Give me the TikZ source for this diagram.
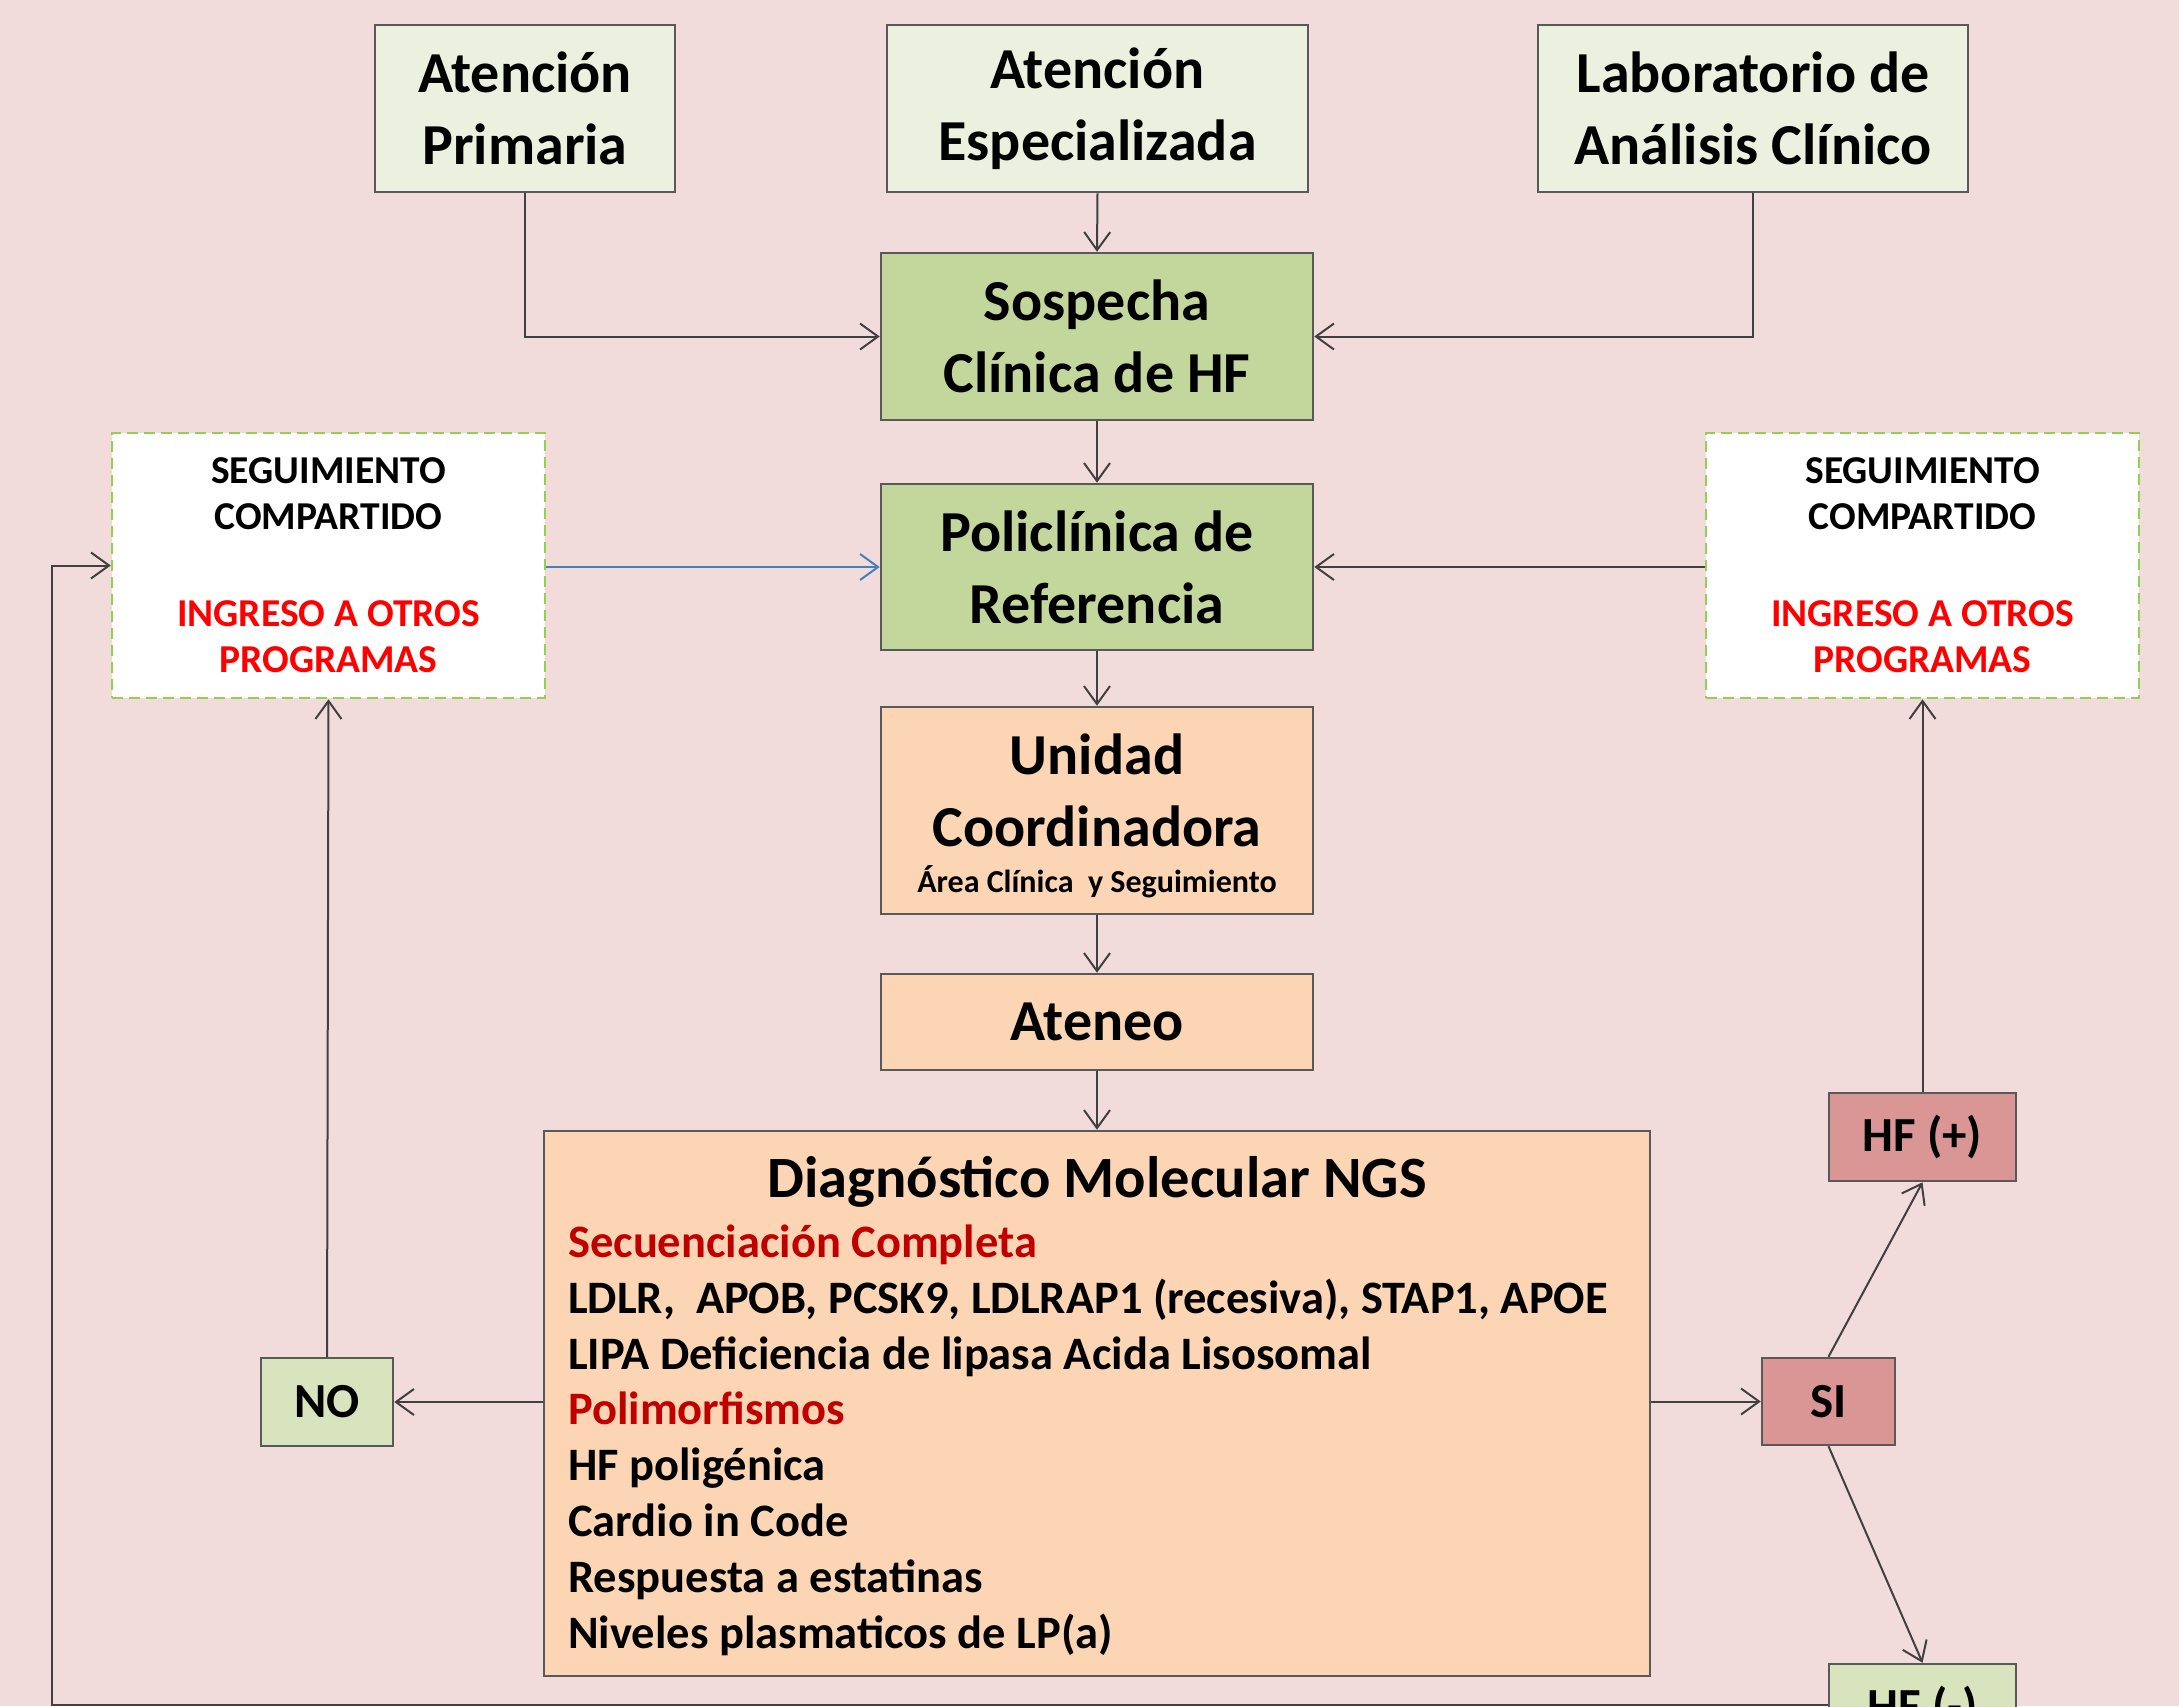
\documentclass[tikz,border=0pt]{standalone}
\usepackage{fontspec}
\setmainfont{Carlito}
\usetikzlibrary{arrows.meta}
\definecolor{bg}{HTML}{F2DCDB}
\definecolor{paleg}{HTML}{EBF1DE}
\definecolor{midg}{HTML}{C3D69B}
\definecolor{lightg}{HTML}{D7E4BD}
\definecolor{peach}{HTML}{FCD5B5}
\definecolor{rose}{HTML}{D99694}
\definecolor{dashg}{HTML}{92D050}
\definecolor{edge}{HTML}{595959}
\definecolor{conn}{HTML}{404040}
\definecolor{blueconn}{HTML}{4A7EBB}
\definecolor{darkred}{HTML}{C00000}
\begin{document}
\begin{tikzpicture}[x=1pt,y=-1pt,
  box/.style={draw=edge, line width=2.5pt, inner sep=0pt, align=center,
    font=\bfseries\fontsize{58}{72}\selectfont},
  dbox/.style={draw=dashg, fill=white, line width=2.5pt, dash pattern=on 11pt off 6pt,
    inner sep=0pt, align=center, minimum width=433pt, minimum height=265pt,
    font=\bfseries\fontsize{39.5}{46}\selectfont},
  small/.style={draw=edge, line width=2.5pt, inner sep=0pt,
    font=\bfseries\fontsize{49}{58}\selectfont},
  txt/.style={inner sep=0pt, font=\bfseries\fontsize{58}{72}\selectfont},
  line/.style={inner sep=0pt, anchor=base west, font=\bfseries\fontsize{46.5}{56}\selectfont},
  arr/.style={draw=conn, line width=2pt, -{Straight Barb[length=18pt,width=26pt,line width=2pt]}},
  barr/.style={draw=blueconn, line width=2pt, -{Straight Barb[length=18pt,width=26pt,line width=2pt]}},
]
\clip (0,0) rectangle (2179,1706);
\fill[bg] (0,0) rectangle (2179,1706);

% top sources
\node[box, fill=paleg, minimum width=300pt, minimum height=167pt] (ap) at (525,108.5) {Atención\\Primaria};
\node[box, fill=paleg, minimum width=421pt, minimum height=167pt] (ae) at (1097.5,108.5) {Atención\\Especializada};
\node[box, fill=paleg, minimum width=430pt, minimum height=167pt] (lab) at (1753,108.5) {Laboratorio de\\Análisis Clínico};

% central column
\node[box, fill=midg, minimum width=432pt, minimum height=167pt] (sos) at (1097,336.5) {Sospecha\\Clínica de HF};
\node[box, fill=midg, minimum width=432pt, minimum height=166pt] (pol) at (1097,567) {Policlínica de\\Referencia};
\node[box, fill=peach, minimum width=432pt, minimum height=207pt] (uni) at (1097,810.5) {};
\node[txt, anchor=base] (uni1) at (1097,774) {Unidad};
\node[txt, anchor=base] (uni2) at (1097,846) {Coordinadora};
\node[inner sep=0pt, anchor=base, font=\bfseries\fontsize{32}{36}\selectfont] (uni3) at (1097,892) {Área Clínica\ \ y Seguimiento};
\node[box, fill=peach, minimum width=432pt, minimum height=96pt] (ate) at (1097,1022) {Ateneo};

% diagnostic box
\node[box, fill=peach, minimum width=1106pt, minimum height=545pt] (dia) at (1097,1403.5) {};
\node[inner sep=0pt, anchor=base, font=\bfseries\fontsize{58.5}{70}\selectfont] (diat) at (1097,1197) {Diagnóstico Molecular NGS};
\node[line, text=darkred] (d1) at (568,1257) {Secuenciación Completa};
\node[line] (d2) at (568,1313) {LDLR,\ \ APOB, PCSK9, LDLRAP1 (recesiva), STAP1, APOE};
\node[line] (d3) at (568,1369) {LIPA Deficiencia de lipasa Acida Lisosomal};
\node[line, text=darkred] (d4) at (568,1424) {Polimorfismos};
\node[line] (d5) at (568,1480) {HF poligénica};
\node[line] (d6) at (568,1536) {Cardio in Code};
\node[line] (d7) at (568,1592) {Respuesta a estatinas};
\node[line] (d8) at (568,1648) {Niveles plasmaticos de LP(a)};

% follow-up boxes
\node[dbox] (lbox) at (328.5,565.5) {SEGUIMIENTO\\COMPARTIDO\\[51pt]\textcolor{red}{INGRESO A OTROS}\\\textcolor{red}{PROGRAMAS}};
\node[dbox] (rbox) at (1922.5,565.5) {SEGUIMIENTO\\COMPARTIDO\\[51pt]\textcolor{red}{INGRESO A OTROS}\\\textcolor{red}{PROGRAMAS}};

% decision boxes
\node[small, fill=lightg, minimum width=132pt, minimum height=88pt] (no) at (327,1402) {NO};
\node[small, fill=rose, minimum width=133pt, minimum height=87pt] (si) at (1828.5,1401.5) {SI};
\node[small, fill=rose, minimum width=187pt, minimum height=88pt] (hfp) at (1922.5,1137) {HF (+)};
\node[small, fill=lightg, minimum width=187pt, minimum height=88pt] (hfn) at (1922.5,1708) {HF (-)};

\coordinate (cl) at (52,1705);

% connectors
\draw[arr] (ap.south) |- (sos.west);
\draw[arr] (ae.south) -- (sos.north);
\draw[arr] (lab.south) |- (sos.east);
\draw[arr] (sos.south) -- (pol.north);
\draw[arr] (pol.south) -- (uni.north);
\draw[arr] (uni.south) -- (ate.north);
\draw[arr] (ate.south) -- (dia.north);
\draw[barr] (lbox.east |- pol) -- (pol.west);
\draw[arr] (rbox.west |- pol) -- (pol.east);
\draw[arr] (dia.west |- no) -- (no.east);
\draw[arr] (dia.east |- si) -- (si.west);
\draw[arr] (no.north) -- (lbox.south);
\draw[arr] (si.north) -- (hfp.south);
\draw[arr] (si.south) -- (hfn.north);
\draw[arr] (hfp.north) -- (rbox.south);
\draw[arr] (hfn.west |- cl) -- (cl) |- (lbox.west);
\end{tikzpicture}
\end{document}
